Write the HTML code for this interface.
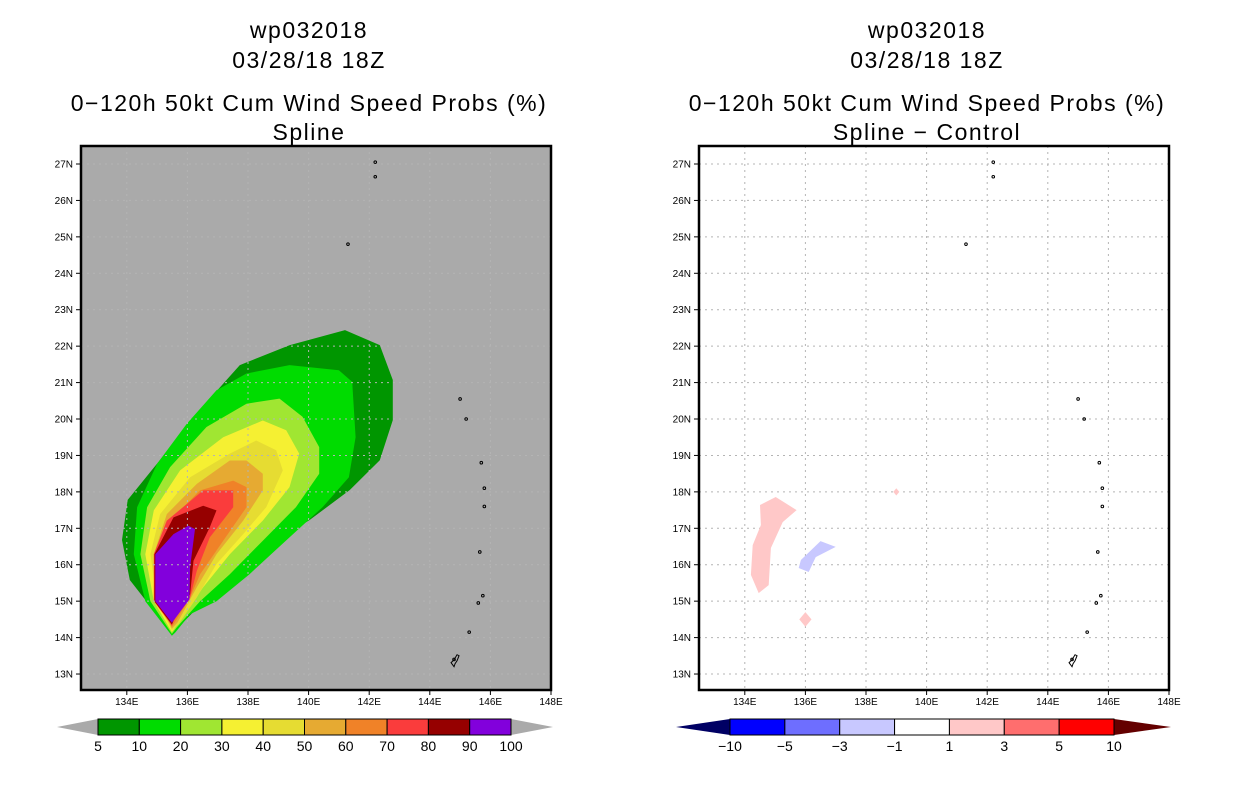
<!DOCTYPE html>
<html><head><meta charset="utf-8"><style>
body{margin:0;background:#fff;width:1236px;height:800px;overflow:hidden}
svg{display:block;font-family:"Liberation Sans",sans-serif}
</style></head><body>
<svg id="s" width="1236" height="800"></svg>
<script>
const NS='http://www.w3.org/2000/svg';
// ---- data ----
const lonTicks=[134,136,138,140,142,144,146,148];
const latTicks=[13,14,15,16,17,18,19,20,21,22,23,24,25,26,27];
const probLevels=['5','10','20','30','40','50','60','70','80','90','100'];
const probColors=['#009600','#00dc00','#a0e632','#f5f032','#e6dc32','#e6aa32','#f08228','#fa3c3c','#960000','#8200dc'];
const diffLevels=['-10','-5','-3','-1','1','3','5','10'];
const diffColors=['#0000ff','#6e6eff','#c8c8ff','#ffffff','#ffc8c8','#ff6e6e','#ff0000'];
const lvl5=[[135.49,14.1],[134.1,15.58],[133.84,16.68],[134.03,17.78],[135.09,18.87],[136.41,20.25],[137.73,21.48],[139.38,22.03],[141.2,22.44],[142.35,22.03],[142.78,21.07],[142.78,19.97],[142.35,18.87],[141.36,18.05],[140.04,17.23],[138.72,16.54],[137.4,15.86],[136.58,15.03]];
const lvl10=[[135.49,14.05],[134.61,15.0],[134.23,16.29],[134.34,17.58],[135.0,18.77],[135.98,19.87],[136.96,20.79],[137.95,21.25],[139.37,21.48],[141.0,21.34],[141.44,21.02],[141.55,19.5],[141.33,18.4],[140.46,17.58],[139.37,16.75],[138.05,15.74],[136.96,15.0],[136.09,14.64],[135.6,14.14]];
const lvl20=[[135.49,14.1],[134.78,15.0],[134.45,16.29],[134.67,17.58],[135.43,18.68],[136.63,19.78],[137.95,20.42],[139.04,20.56],[139.8,20.06],[140.35,19.23],[140.35,18.5],[139.58,17.58],[138.49,16.66],[137.4,15.74],[136.42,15.0],[135.65,14.28]];
const lvl30=[[135.49,14.15],[134.89,15.0],[134.61,16.29],[134.89,17.49],[135.76,18.59],[137.18,19.5],[138.49,19.96],[139.26,19.69],[139.69,19.05],[139.37,18.13],[138.49,17.21],[137.4,16.29],[136.52,15.38],[135.76,14.46]];
const lvl40=[[135.49,14.2],[135.0,15.0],[134.78,16.29],[135.1,17.39],[136.09,18.4],[137.4,19.05],[138.27,19.41],[138.93,19.14],[139.15,18.59],[138.6,17.58],[137.84,16.84],[136.96,16.02],[136.31,15.1],[135.71,14.37]];
const lvl50=[[135.49,14.25],[135.05,15.0],[134.89,16.29],[135.32,17.39],[136.31,18.22],[137.4,18.86],[137.95,18.86],[138.49,18.5],[138.49,18.04],[137.84,17.21],[136.96,16.29],[136.31,15.38],[135.67,14.41]];
const lvl60=[[135.49,14.3],[135.1,15.0],[134.94,16.29],[135.43,17.21],[136.42,18.04],[137.51,18.31],[137.95,18.13],[137.95,17.58],[137.18,16.66],[136.42,15.74],[136.09,15.1],[135.62,14.46]];
const lvl70=[[135.49,14.33],[134.89,15.0],[134.89,16.29],[135.32,17.21],[136.52,18.04],[137.51,18.04],[137.51,17.58],[136.74,16.75],[136.31,15.83],[136.09,15.1],[135.54,14.46]];
const lvl80=[[135.49,14.36],[134.91,15.0],[134.91,16.29],[135.54,17.3],[136.52,17.62],[136.96,17.49],[136.74,17.03],[136.2,16.11],[136.09,15.19],[135.54,14.46]];
const lvl90=[[135.49,14.41],[134.94,15.0],[134.94,16.29],[135.54,16.84],[136.03,17.07],[136.25,16.98],[136.09,15.93],[136.07,15.05]];
const probPolys=[lvl5,lvl10,lvl20,lvl30,lvl40,lvl50,lvl60,lvl70,lvl80,lvl90];
const diffPink1=[[134.5,17.64],[135.02,17.86],[135.71,17.5],[135.25,17.17],[134.86,16.46],[134.79,15.44],[134.46,15.22],[134.2,15.72],[134.26,16.54],[134.53,17.09]];
const diffBlue1=[[135.85,16.13],[136.5,16.65],[137.0,16.49],[136.34,16.21],[136.11,15.8],[135.78,15.91]];
const diffPink2=[[136.0,14.7],[136.2,14.5],[136.0,14.3],[135.8,14.5]];
const diffPink3=[[139.0,18.1],[139.1,18.0],[139.0,17.9],[138.9,18.0]];
const islands=[[142.2,27.05],[142.2,26.65],[141.3,24.8],[145.0,20.55],[145.2,20.0],[145.7,18.8],[145.8,18.1],[145.8,17.6],[145.65,16.35],[145.75,15.15],[145.6,14.95],[145.3,14.15],[144.8,13.4]];
// ---- helpers ----
const svg=document.getElementById('s');
function mk(t,a,p){const e=document.createElementNS(NS,t);for(const k in a)e.setAttribute(k,a[k]);(p||svg).appendChild(e);return e;}
function txt(x,y,s,size,anchor,p){const e=mk('text',{x:x,y:y,'font-size':size,'text-anchor':anchor||'middle',fill:'#000'},p);e.textContent=s;return e;}
function panel(x0,name){
  const xs=lon=>x0+470-(148-lon)*30.3;
  const ys=lat=>164+(27-lat)*36.43;
  const g=mk('g',{});
  
  
  return {g,xs,ys};
}
function poly(P,pts,fill,name){
  const e=mk('polygon',{points:pts.map(p=>P.xs(p[0]).toFixed(1)+','+P.ys(p[1]).toFixed(1)).join(' '),fill:fill},P.g);
  
  
}
function axes(P,x0,bg){
  const r=mk('rect',{x:x0,y:146,width:470,height:544,fill:bg},P.g);
  
  
}
function grid(P,x0){
  lonTicks.forEach(l=>{if(l<148)mk('line',{x1:P.xs(l),x2:P.xs(l),y1:146,y2:690,stroke:'#b4b4b4','stroke-dasharray':'2,4'},P.g);});
  latTicks.forEach(l=>mk('line',{x1:x0,x2:x0+470,y1:P.ys(l),y2:P.ys(l),stroke:'#b4b4b4','stroke-dasharray':'2,4'},P.g));
}
function frame(P,x0){
  islands.forEach(i=>{const e=mk('circle',{cx:P.xs(i[0]),cy:P.ys(i[1]),r:1.3,fill:'none',stroke:'#000','stroke-width':1},P.g);});
  mk('path',{d:`M${P.xs(144.8)} ${P.ys(13.2)} l-3 -4 l3 -3 l3 -5 l2 1 l-2 5 l-2 3 z`,fill:'none',stroke:'#000'},P.g);
  mk('rect',{x:x0,y:146,width:470,height:544,fill:'none',stroke:'#000','stroke-width':2.5},P.g);
  lonTicks.forEach(l=>{const x=P.xs(l);mk('line',{x1:x,x2:x,y1:690,y2:695,stroke:'#000'},P.g);const t=txt(x,705,l+'E',10,'middle',P.g);});
  latTicks.forEach(l=>{const y=P.ys(l);mk('line',{x1:x0-5,x2:x0,y1:y,y2:y,stroke:'#000'},P.g);const t=txt(x0-8,y+3.5,l+'N',10,'end',P.g);});
}
function titles(cx,line4){
  const L=['wp032018','03/28/18 18Z','0\u2212120h 50kt Cum Wind Speed Probs (%)',line4];
  const Y=[38,68,111,140];
  L.forEach((s,i)=>{const t=txt(cx,Y[i],s,23);t.setAttribute('letter-spacing','1.5');});
}
function colorbar(x0,x1,tipL,tipR,levels,colors,leftCol,rightCol,name){
  const g=mk('g',{});
  
  
  const w=(x1-x0)/colors.length;
  mk('polygon',{points:`${tipL},727 ${x0},719 ${x0},735`,fill:leftCol},g);
  mk('polygon',{points:`${tipR},727 ${x1},719 ${x1},735`,fill:rightCol},g);
  colors.forEach((c,i)=>{const r=mk('rect',{x:x0+i*w,y:719,width:w,height:16,fill:c,stroke:'#000','stroke-width':1},g);});
  levels.forEach((s,i)=>{const t=txt(x0+i*w,751,s.replace('-','\u2212'),14,'middle',g);});
}
// ---- left panel ----
const A=panel(81,'spline-prob-map');
axes(A,81,'#aaaaaa');
probPolys.forEach((p,i)=>poly(A,p,probColors[i],'prob-contour-'+probLevels[i]));
grid(A,81);
frame(A,81);
titles(309,'Spline');
colorbar(98,511,57,553,probLevels,probColors,'#aaaaaa','#aaaaaa','prob-colorbar');
// ---- right panel ----
const B=panel(699,'spline-minus-control-map');
axes(B,699,'#ffffff');
grid(B,699);
poly(B,diffPink1,diffColors[4],'diff-positive-area');
poly(B,diffBlue1,diffColors[2],'diff-negative-area');
poly(B,diffPink2,diffColors[4],'diff-positive-area');
poly(B,diffPink3,diffColors[4],'diff-positive-area');
frame(B,699);
titles(927,'Spline \u2212 Control');
colorbar(730,1114,676,1171,diffLevels,diffColors,'#000064','#640000','diff-colorbar');
</script>
</body></html>
